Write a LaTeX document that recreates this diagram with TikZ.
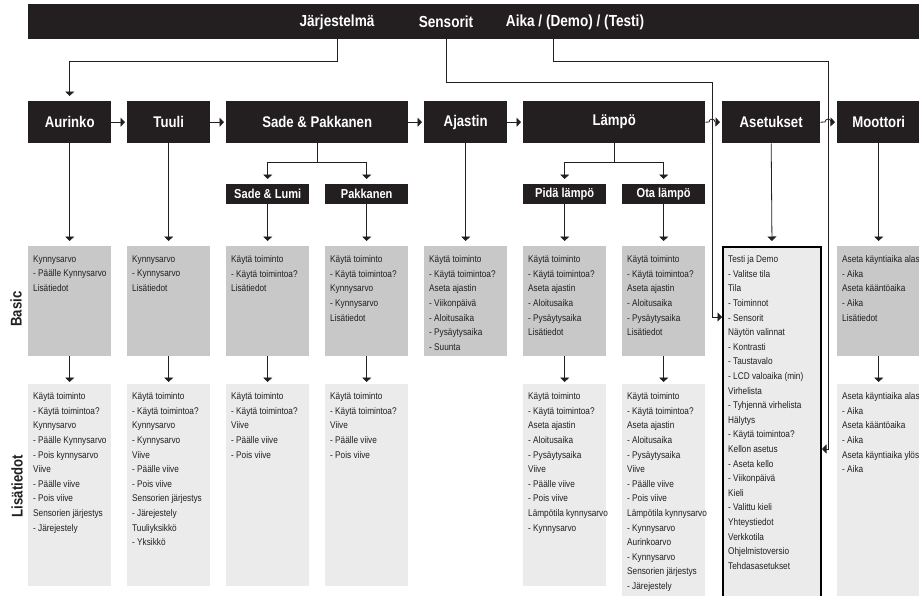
\documentclass[tikz,border=0pt]{standalone}
\usepackage{fontspec}
\setmainfont{Liberation Sans}[FakeStretch=0.85]
\usetikzlibrary{arrows.meta}
\definecolor{ink}{RGB}{35,31,32}
\definecolor{gbasic}{RGB}{200,200,200}
\definecolor{glight}{RGB}{235,235,235}
\newcommand{\hdrfont}{\fontsize{15.5}{18}\selectfont\bfseries}
\newcommand{\subhfont}{\fontsize{13}{15}\selectfont\bfseries}
\newcommand{\topfont}{\fontsize{16}{18}\selectfont\bfseries}
\newcommand{\txtfont}{\fontsize{9.7}{14.6}\selectfont}
\begin{document}
\begin{tikzpicture}[x=1pt,y=-1pt,
  hdr/.style={fill=ink,text=white,inner sep=0,anchor=north west,minimum height=42pt,font=\hdrfont},
  subh/.style={fill=ink,text=white,inner sep=0,anchor=north west,minimum height=20pt,minimum width=83pt,font=\subhfont},
  bbox/.style={fill=gbasic,inner sep=0,anchor=north west,minimum width=83pt,minimum height=110pt},
  lbox/.style={fill=glight,inner sep=0,anchor=north west,minimum width=83pt,minimum height=202pt},
  txt/.style={anchor=north west,inner sep=0,align=left,font=\txtfont,text=ink},
  side/.style={rotate=90,font=\hdrfont,text=ink,inner sep=0},
  conn/.style={draw=ink,line width=0.8pt},
  arr/.style={conn,-{Triangle[width=9pt,length=4.5pt]}},
  arrg/.style={arr,shorten >=5pt},
  arrs/.style={arr,shorten >=2pt},
]
\useasboundingbox (0,0) rectangle (919,595);

% top bar
\node[fill=ink,anchor=north west,minimum width=900pt,minimum height=35pt,inner sep=0] (bar) at (28,4) {};
\node[text=white,font=\topfont,inner sep=0] (tjar) at (337,22) {Järjestelmä};
\node[text=white,font=\topfont,inner sep=0] (tsen) at (446,22) {Sensorit};
\node[text=white,font=\topfont,inner sep=0] (taik) at (575,22) {Aika / (Demo) / (Testi)};
\coordinate (aikaout) at (553,39);

% main row
\node[hdr,minimum width=83pt] (aur) at (28,101) {Aurinko};
\node[hdr,minimum width=83pt] (tuu) at (127,101) {Tuuli};
\node[hdr,minimum width=182pt] (sp) at (226,101) {Sade \& Pakkanen};
\node[hdr,minimum width=83pt] (aja) at (424,101) {Ajastin};
\node[hdr,minimum width=182pt] (lam) at (523,101) {Lämpö};
\node[hdr,minimum width=98pt] (ase) at (722,101) {Asetukset};
\node[hdr,minimum width=83pt] (moo) at (837,101) {Moottori};

% sub row
\node[subh] (sl) at (226,184) {Sade \& Lumi};
\node[subh] (pk) at (325,184) {Pakkanen};
\node[subh] (pl) at (523,184) {Pidä lämpö};
\node[subh] (ol) at (622,184) {Ota lämpö};

% basic boxes
\node[bbox] (b1) at (28,246) {};
\node[bbox] (b2) at (127,246) {};
\node[bbox] (b3) at (226,246) {};
\node[bbox] (b4) at (325,246) {};
\node[bbox] (b5) at (424,246) {};
\node[bbox] (b6) at (523,246) {};
\node[bbox] (b7) at (622,246) {};
\node[bbox] (b9) at (837,246) {};
\node[fill=glight,draw=black,line width=2pt,anchor=north west,minimum width=98pt,minimum height=360pt,inner sep=0] (sb) at (722,246) {};

% lisatiedot boxes
\node[lbox] (l1) at (28,384) {};
\node[lbox] (l2) at (127,384) {};
\node[lbox] (l3) at (226,384) {};
\node[lbox] (l4) at (325,384) {};
\node[lbox] (l6) at (523,384) {};
\node[lbox,minimum height=215pt] (l7) at (622,384) {};
\node[lbox,minimum height=215pt] (l9) at (837,384) {};

% side labels
\node[side] (sbasic) at (16,309) {Basic};
\node[side] (slisa) at (17,486) {Lisätiedot};

% texts basic
\node[txt] (tb1) at (33,255.5) {Kynnysarvo\\- Päälle Kynnysarvo\\Lisätiedot};
\node[txt] (tb2) at (132,255.5) {Kynnysarvo\\- Kynnysarvo\\Lisätiedot};
\node[txt] (tb3) at (231,255.5) {Käytä toiminto\\- Käytä toimintoa?\\Lisätiedot};
\node[txt] (tb4) at (330,255.5) {Käytä toiminto\\- Käytä toimintoa?\\Kynnysarvo\\- Kynnysarvo\\Lisätiedot};
\node[txt] (tb5) at (429,255.5) {Käytä toiminto\\- Käytä toimintoa?\\Aseta ajastin\\- Viikonpäivä\\- Aloitusaika\\- Pysäytysaika\\- Suunta};
\node[txt] (tb6) at (528,255.5) {Käytä toiminto\\- Käytä toimintoa?\\Aseta ajastin\\- Aloitusaika\\- Pysäytysaika\\Lisätiedot};
\node[txt] (tb7) at (627,255.5) {Käytä toiminto\\- Käytä toimintoa?\\Aseta ajastin\\- Aloitusaika\\- Pysäytysaika\\Lisätiedot};
\node[txt] (tb8) at (728,255.5) {Testi ja Demo\\- Valitse tila\\Tila\\- Toiminnot\\- Sensorit\\Näytön valinnat\\- Kontrasti\\- Taustavalo\\- LCD valoaika (min)\\Virhelista\\- Tyhjennä virhelista\\Hälytys\\- Käytä toimintoa?\\Kellon asetus\\- Aseta kello\\- Viikonpäivä\\Kieli\\- Valittu kieli\\Yhteystiedot\\Verkkotila\\Ohjelmistoversio\\Tehdasasetukset};
\node[txt] (tb9) at (842,255.5) {Aseta käyntiaika alas\\- Aika\\Aseta kääntöaika\\- Aika\\Lisätiedot};

% texts lisatiedot
\node[txt] (tl1) at (33,392.5) {Käytä toiminto\\- Käytä toimintoa?\\Kynnysarvo\\- Päälle Kynnysarvo\\- Pois kynnysarvo\\Viive\\- Päälle viive\\- Pois viive\\Sensorien järjestys\\- Järejestely};
\node[txt] (tl2) at (132,392.5) {Käytä toiminto\\- Käytä toimintoa?\\Kynnysarvo\\- Kynnysarvo\\Viive\\- Päälle viive\\- Pois viive\\Sensorien järjestys\\- Järejestely\\Tuuliyksikkö\\- Yksikkö};
\node[txt] (tl3) at (231,392.5) {Käytä toiminto\\- Käytä toimintoa?\\Viive\\- Päälle viive\\- Pois viive};
\node[txt] (tl4) at (330,392.5) {Käytä toiminto\\- Käytä toimintoa?\\Viive\\- Päälle viive\\- Pois viive};
\node[txt] (tl6) at (528,392.5) {Käytä toiminto\\- Käytä toimintoa?\\Aseta ajastin\\- Aloitusaika\\- Pysäytysaika\\Viive\\- Päälle viive\\- Pois viive\\Lämpötila kynnysarvo\\- Kynnysarvo};
\node[txt] (tl7) at (627,392.5) {Käytä toiminto\\- Käytä toimintoa?\\Aseta ajastin\\- Aloitusaika\\- Pysäytysaika\\Viive\\- Päälle viive\\- Pois viive\\Lämpötila kynnysarvo\\- Kynnysarvo\\Aurinkoarvo\\- Kynnysarvo\\Sensorien järjestys\\- Järejestely};
\node[txt] (tl9) at (842,392.5) {Aseta käyntiaika alas\\- Aika\\Aseta kääntöaika\\- Aika\\Aseta käyntiaika ylös\\- Aika};

% connectors from top bar
\draw[arrg] (tjar |- bar.south) -- (tjar |- 0,61) -- (aur.north |- 0,61) -- (aur.north);
\draw[arr] (tsen |- bar.south) -- (tsen |- 0,82) -- (712,82) -- (712,317) -- (sb.west |- 0,317);
\draw[arr] (aikaout) -- (553,61) -- (828,61) -- (828,449) -- (sb.east |- 0,449);

% main row arrows
\draw[arrs] (aur.east) -- (tuu.west);
\draw[arrs] (tuu.east) -- (sp.west);
\draw[arrs] (sp.east) -- (aja.west);
\draw[arrs] (aja.east) -- (lam.west);
\draw[arrs] (lam.east) -- (709,122) arc[start angle=180,end angle=360,radius=3] -- (ase.west);
\draw[arrs] (ase.east) -- (825,122) arc[start angle=180,end angle=360,radius=3] -- (moo.west);

% branches
\draw[conn] (sp.south) -- (sp.south |- 0,162);
\draw[arrg] (sp.south |- 0,162) -| (sl.north);
\draw[arrg] (sp.south |- 0,162) -| (pk.north);
\draw[conn] (lam.south) -- (lam.south |- 0,162);
\draw[arrg] (lam.south |- 0,162) -| (pl.north);
\draw[arrg] (lam.south |- 0,162) -| (ol.north);

% down to basic
\draw[arrg] (aur) -- (b1);
\draw[arrg] (tuu) -- (b2);
\draw[arrg] (sl) -- (b3);
\draw[arrg] (pk) -- (b4);
\draw[arrg] (aja) -- (b5);
\draw[arrg] (pl) -- (b6);
\draw[arrg] (ol) -- (b7);
\draw[arrg] (ase.south) -- (sb.north);
\draw[arrg] (moo) -- (b9);

% down to lisatiedot
\draw[arrs] (b1) -- (l1);
\draw[arrs] (b2) -- (l2);
\draw[arrs] (b3) -- (l3);
\draw[arrs] (b4) -- (l4);
\draw[arrs] (b6) -- (l6);
\draw[arrs] (b7.south) -- (l7.north);
\draw[arrs] (b9.south) -- (l9.north);
\end{tikzpicture}
\end{document}
